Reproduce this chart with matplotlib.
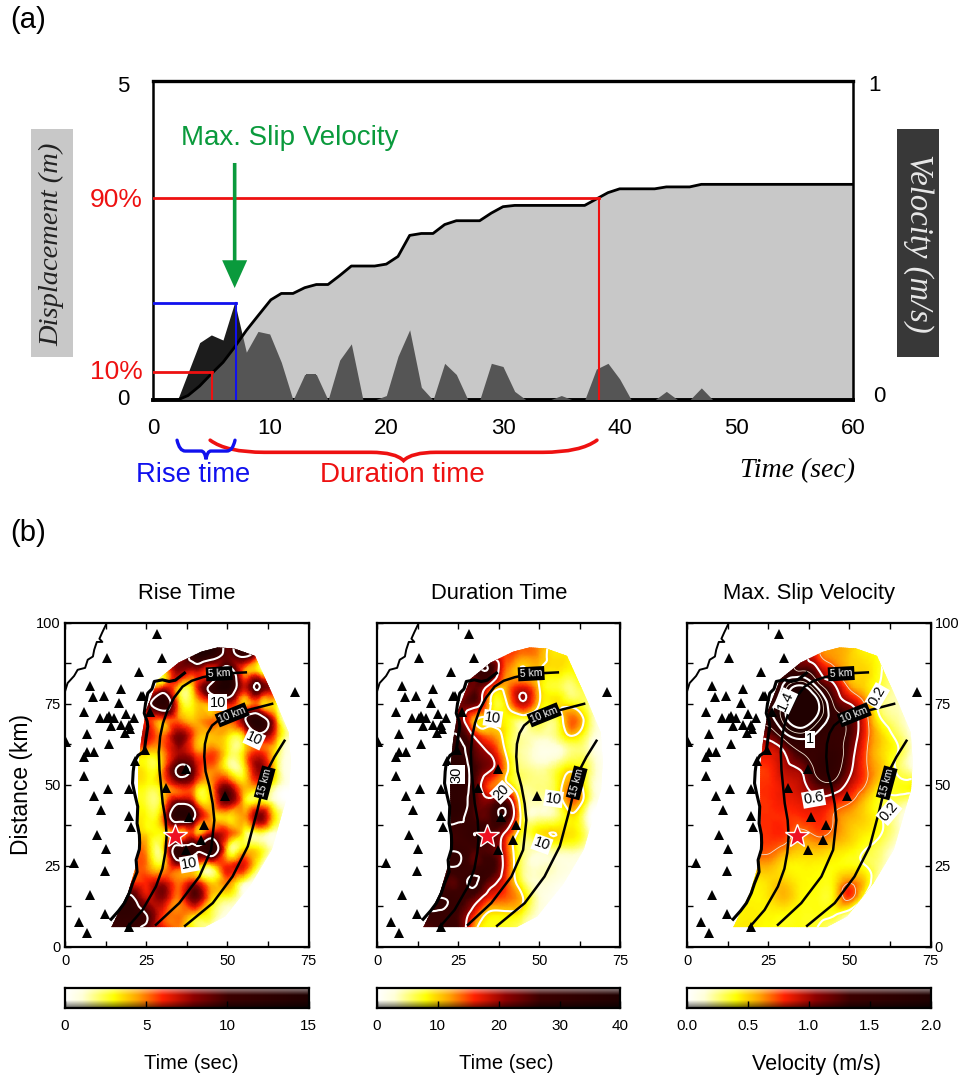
import numpy as np
import matplotlib
matplotlib.use('Agg')
import matplotlib.pyplot as plt
from matplotlib.colors import LinearSegmentedColormap, Normalize
from matplotlib.patches import Polygon, PathPatch, Rectangle
from matplotlib.path import Path
from matplotlib.tri import Triangulation, UniformTriRefiner
from matplotlib.transforms import ScaledTranslation

plt.rcParams['font.family'] = ['Liberation Sans', 'DejaVu Sans']

# ---------- panel (a) data ----------
time_disp = [0, 2.1, 3, 4, 5, 6, 7, 8, 9, 10.1, 11, 12, 13, 14, 15, 16, 17, 19, 20, 21, 22, 23, 24, 25, 26, 28, 29, 30, 31, 37, 38, 39, 40, 43, 44, 46, 47, 60]
displacement = [0, 0, .07, .22, .41, .59, .83, 1.09, 1.32, 1.57, 1.67, 1.67, 1.76, 1.81, 1.81, 1.95, 2.10, 2.10, 2.13, 2.25, 2.58, 2.61, 2.61, 2.75, 2.81, 2.81, 2.93, 3.03, 3.05, 3.05, 3.15, 3.25, 3.31, 3.31, 3.34, 3.34, 3.38, 3.38]
time_vel = [0, 2.1, 4, 5, 6, 7, 8, 9, 10, 11, 12, 13, 14, 15, 16, 17, 18, 19, 20, 21, 22, 23, 24, 25, 26, 27, 28, 29, 30, 31, 32, 34, 35, 36, 37, 38, 39, 40, 41, 43, 44, 45, 46, 47, 48, 60]
velocity = [0, 0, .18, .204, .188, .306, .15, .215, .207, .118, 0, .08, .08, 0, .125, .176, 0, 0, .014, .137, .22, .04, 0, .115, .08, 0, 0, .115, .105, .027, 0, 0, .014, 0, 0, .097, .115, .066, 0, 0, .027, 0, 0, .038, 0, 0]
pct90_time, pct90_disp = 38.2, 3.16
pct10_time, pct10_disp = 5.05, .434
peak_time, peak_disp = 7.1, 1.517
arrow_time, arrow_tip, arrow_tail = 7.0, 1.755, 3.715

# ---------- panel (b) data ----------
grid_x = [10, 15, 20, 25, 30, 35, 40, 45, 50, 55, 60, 65, 70]
grid_y = [95, 90, 85, 80, 75, 70, 65, 60, 55, 50, 45, 40, 35, 30, 25, 20, 15, 10, 5]
rise_time = [
 [0,0,0,0,0,8,13,13,10,11,6,0,0],
 [0,0,0,0,3,7,13,13,9,11,5,0,0],
 [3,3,3,3,3,8,7,6,12,5,3,2,0],
 [3,3,3,3,6,4,5,11,15,7,10,6,0],
 [8,8,8,8,13,4.5,3.5,5,7,4,4.5,3,0],
 [6,6,6,6,5,5,4,5,5,9,13,5,1],
 [7,7,7,7,5,8.5,5,4,3.5,4,8.5,5,1],
 [4,4,4,4,4.5,7.5,5.5,5.5,3,3.5,6,3,.5],
 [3,3,3,3,4.5,10.5,8,5,2.8,3,8,3,.5],
 [3,3,3,3,4,7,5.5,4.5,7.5,4,5,2,.3],
 [2.5,2.5,2.5,2.5,3.5,8,5.5,4,9,4,3,1,0],
 [3,3,3,3,5,13,10,4.5,3.5,4.5,8.5,3,0],
 [3.5,3.5,3.5,3.5,3,4.5,5,7,6,3,2.5,1,0],
 [4.5,4.5,4.5,4.5,3,12,11,13,3.5,3.5,3,.8,0],
 [5,5,5,5,3.5,7,5,3.5,6,6.5,2,0,0],
 [6,6,6,6,7,5,6.5,3.5,5,2,.5,0,0],
 [11,11,11,7,8,5,9,4,2.5,.7,0,0,0],
 [12,12,12,10,6,5,4,2.5,.8,0,0,0,0],
 [10,10,11,9,7,5,3,1,0,0,0,0,0]]
duration_time = [
 [0,0,0,0,0,22,15,13,12,9,8,0,0],
 [0,0,0,0,20,20,15,13,12,9,8,0,0],
 [26,26,26,26,26,28,13,10,10,9,8,7,0],
 [20,20,20,20,24,16,12,17,10,7,5,7,0],
 [22,22,22,22,24,10,10,19,10,9,8,5,0],
 [24,24,24,24,11,9,8,6,7,6,14,7,1],
 [30,30,30,30,19,13,8,4,4,5,10,5,1],
 [33,33,33,33,25,19,9,4,2,2,5,4,.5],
 [35,35,35,35,27,21,11,5,4,6,9,6,1],
 [34,34,34,34,26,14,11,5,5,7,13,6,1],
 [33,33,33,33,26,22,24,6,4,6,14,6,.5],
 [32,32,32,32,26,26,28,7,4,5,9,2,0],
 [27,27,27,27,30,26,18,7,9,10,9,4,0],
 [29,29,29,29,26,25,15,5,4,5,5,2,0],
 [30,30,30,30,26,28,16,5,3,3,2,.5,0],
 [26,26,26,26,31,23,15,6,3,2,1,0,0],
 [30,30,30,28,24,16,14,10,3,1,0,0,0],
 [29,29,29,26,16,9,9,7,2.5,.5,0,0,0],
 [24,24,28,27,11,8,7,4,.5,0,0,0,0]]
slip_velocity = [
 [0,0,0,0,0,.6,.45,.35,.3,.25,.2,0,0],
 [0,0,0,0,.7,.7,.45,.35,.3,.25,.2,.1,0],
 [.8,.8,.8,.8,.8,.8,.65,.45,.3,.28,.2,.12,0],
 [.8,.8,.8,.8,1.1,1.5,1.0,.65,.38,.28,.18,.1,0],
 [.9,.9,.9,.9,1.3,1.9,1.5,.8,.6,.38,.15,.1,.02],
 [.9,.9,.9,.9,1.3,1.7,1.3,.9,.75,.45,.2,.12,.03],
 [.65,.65,.65,.65,.9,1.1,.95,.85,.75,.45,.28,.17,.05],
 [.5,.5,.5,.5,.6,.8,.85,.9,.7,.42,.28,.2,.05],
 [.45,.45,.45,.45,.55,.62,.85,.9,.65,.42,.3,.18,.05],
 [.45,.45,.45,.45,.5,.55,.72,.75,.55,.4,.25,.22,.25],
 [.45,.45,.45,.45,.48,.5,.55,.5,.42,.3,.2,.17,.1],
 [.45,.45,.45,.45,.45,.45,.47,.4,.33,.28,.2,.1,0],
 [.45,.45,.45,.45,.45,.38,.42,.38,.3,.25,.2,.1,0],
 [.42,.42,.42,.42,.36,.3,.31,.28,.25,.2,.15,.05,0],
 [.33,.33,.33,.33,.26,.24,.24,.23,.23,.2,.12,0,0],
 [.25,.25,.25,.27,.29,.24,.23,.24,.38,.28,.06,0,0],
 [.24,.24,.24,.26,.31,.24,.22,.24,.43,.15,0,0,0],
 [.24,.24,.25,.24,.23,.22,.22,.21,.12,0,0,0,0],
 [.26,.26,.25,.23,.23,.23,.2,.12,.03,0,0,0,0]]

fault_x = [14.3, 19.4, 22.5, 22.7, 22.5, 22.6, 23.5, 25, 28.7, 35, 42, 47, 52, 58.5, 64.7, 68.9, 69.5, 69, 63.7, 57.5, 49.3, 43, 14.3]
fault_y = [6, 16.5, 27, 40, 50, 55.7, 64, 73, 82.5, 87.6, 91, 92.3, 92, 89.7, 76, 66, 57, 48.5, 30, 19.6, 9.3, 6, 6]

station_x = [28.3,29.8,12.8,22.7,7.8,17.2,8.6,11.9,16.5,23.9,23.4,5.7,26.3,10.9,12.8,13.4,15.2,18.8,21.1,14.3,17.2,19.8,18.4,20,6.9,13.4,6.8,9,5.7,24.6,21.5,.2,37.3,5.7,31.1,13.3,19.8,8.9,11.2,49.3,19.8,38.3,42.8,20.2,9.8,41.9,12.7,37.3,2.9,12.4,7.8,12.4,4.2,19.8,6.9,70.7]
station_y = [96.4,88.9,88.9,84.8,80.5,79.4,77,77.4,75.3,77.4,77.4,72.5,72.5,70.5,70.5,71,70.5,71.8,70.5,68.1,68.4,68.4,66,67.1,65.5,62.6,60,60,58.4,60.7,57.3,63,54.8,52.5,49,48.6,48.6,46.3,42,46.5,40.4,40.1,37.4,37,34.5,32.9,30,29.8,25.9,23.4,15.9,10,7.5,6,4.1,78.5]

coast_thin_x = [12.6, 11.5, 10.6, 11.5, 9.8, 9, 8.6, 7, 6.2, 3.9, 2.8, .8, 0]
coast_thin_y = [99.3, 97, 95, 94, 94, 91.6, 89.5, 88.5, 86, 85.4, 83.5, 81.3, 78.7]
coast_x = [36.8, 34, 32.1, 30, 27.5, 26.8, 25.5, 24.8, 24.4, 25.3, 25.5, 24.9, 24.4, 22.5, 21.4, 21, 20.8, 21.5, 22.4, 22.2, 22.9, 23, 22.9, 21.9, 22.2, 20.8, 19.8, 18.3, 16.5, 14.2]
coast_y = [84.4, 82.2, 81.8, 82.3, 81.8, 79.5, 78.2, 75, 72, 69.5, 67.9, 64, 60.2, 59, 57.1, 54, 50.4, 47, 43.2, 38, 34.5, 32, 30, 26.7, 23, 19.5, 16.5, 13.4, 11, 8.4]

depth5_x = [19.3, 23.9, 28, 30, 30.9, 31.3, 31, 30.1, 29.1, 28.9, 29.3, 30.2, 31.6, 33.6, 36.2, 39, 42.4, 47.6, 55.7]
depth5_y = [6, 11.3, 18.5, 24, 29, 34, 39, 44.2, 54.5, 60, 64.8, 69, 73, 76.8, 80.2, 82, 83.1, 84.2, 84.6]
depth10_x = [28, 35.2, 41.4, 45, 46, 45.5, 44.5, 43.3, 42.9, 43.1, 43.9, 45.3, 47.5, 51, 55.7, 63.8]
depth10_y = [6.7, 13.4, 21.6, 29.8, 39, 44, 49.4, 54, 58.6, 62.5, 65.8, 68.2, 70, 71.5, 72.8, 74.9]
depth15_x = [37, 45.5, 51.6, 56.3, 59.3, 61.9, 64.5, 67.6]
depth15_y = [6.4, 13.4, 21.6, 30.9, 42.2, 53.5, 58.5, 63.5]
star_x, star_y = 34, 34

panel_titles = ['Rise Time', 'Duration Time', 'Max. Slip Velocity']
bar_titles = ['Time (sec)', 'Time (sec)', 'Velocity (m/s)']
bar_ticks = [[0, 5, 10, 15], [0, 10, 20, 30, 40], [0, .5, 1, 1.5, 2]]
bar_labels = [['0', '5', '10', '15'], ['0', '10', '20', '30', '40'], ['0.0', '0.5', '1.0', '1.5', '2.0']]
map_vmax = [15, 40, 1.15]
thick_levels = [[10], [10, 20, 30], [.2, .6, 1.0, 1.4]]
thin_levels = [[], [], [.4, .8, 1.2]]
contour_labels = [
 [('10', 47, 75.3, 0), ('10', 58.3, 64, -25), ('10', 38.3, 25.5, 10)],
 [('10', 35.7, 70.4, -8), ('10', 54.4, 45.6, -8), ('10', 50.8, 31.6, -20), ('20', 38.3, 47.6, 45), ('30', 24.6, 53, 90)],
 [('1.4', 30.5, 75.8, 65), ('1', 37.9, 63.9, 0), ('0.6', 39, 45.6, 10), ('0.2', 58.6, 77.3, 60), ('0.2', 62.2, 41.5, 50)]]
depth_labels = [('5 km', 47.5, 84.2, 3), ('10 km', 51.5, 71.5, 22), ('15 km', 61.5, 50.5, 75)]

cmap_hot = LinearSegmentedColormap.from_list('hot_r2', [
    (0, '#ffffff'), (.07, '#ffffd8'), (.2, '#ffff00'), (.3, '#ffa000'), (.4, '#ff2000'),
    (.53, '#8c0000'), (.67, '#3c0000'), (1, '#200000')])

W, H = 964, 1076
fig = plt.figure(figsize=(W / 100, H / 100), dpi=100)

def axes_px(l, t, r, b):
    return fig.add_axes([l / W, 1 - b / H, (r - l) / W, (b - t) / H])

def ftext(x, y, s, **kw):
    kw.setdefault('ha', 'center')
    kw.setdefault('va', 'center')
    return fig.text(x / W, 1 - y / H, s, **kw)

def nudge(label, dx_px, dy_px):
    label.set_transform(label.get_transform() + ScaledTranslation(dx_px / 100, -dy_px / 100, fig.dpi_scale_trans))

# ---------- panel (a) ----------
ax = axes_px(153, 81, 853, 400)
ax.set_xlim(0, 60)
ax.set_ylim(0, 5)
vel_m = np.array(velocity) * 5
ax.fill_between(time_vel, 0, vel_m, color='#1c1c1c', lw=0, zorder=1)
ax.fill_between(time_disp, 0, displacement, color='#c8c8c8', lw=0, zorder=2)
clip_poly = Polygon(np.column_stack([time_disp + [60, 0], displacement + [0, 0]]), transform=ax.transData)
dark = ax.fill_between(time_vel, 0, vel_m, color='#555555', lw=0, zorder=3)
dark.set_clip_path(clip_poly)
ax.plot(time_disp, displacement, color='k', lw=2, zorder=4)
ax.plot([0, pct90_time], [pct90_disp, pct90_disp], color='#ee1111', lw=2, zorder=5)
ax.plot([pct90_time, pct90_time], [pct90_disp, 0], color='#ee1111', lw=1.5, zorder=5)
ax.plot([0, pct10_time], [pct10_disp, pct10_disp], color='#ee1111', lw=2, zorder=5)
ax.plot([pct10_time, pct10_time], [pct10_disp, 0], color='#ee1111', lw=1.5, zorder=5)
ax.plot([0, peak_time], [peak_disp, peak_disp], color='#1111ee', lw=2, zorder=5)
ax.plot([peak_time, peak_time], [peak_disp, 0], color='#1111ee', lw=1.5, zorder=5)
ax.annotate('', xy=(arrow_time, arrow_tip), xytext=(arrow_time, arrow_tail),
            arrowprops=dict(facecolor='#0a9a3c', edgecolor='#0a9a3c', width=2.6, headwidth=18, headlength=20, shrink=0, lw=0), zorder=6)
ax.set_xticks(range(0, 61, 10))
ax.tick_params(axis='x', length=0, pad=13, labelsize=16)
ax.set_yticks([0, pct10_disp, pct90_disp, 5])
ax.set_yticklabels(['0', '10%', '90%', '5'])
ax.tick_params(axis='y', length=0, pad=14)
for lab, c, fs, off in zip(ax.get_yticklabels(), ['k', '#ee1111', '#ee1111', 'k'], [16, 19, 19, 16],
                           [(-4, -3), (9, -3), (9, -1), (-4, 3)]):
    lab.set_color(c)
    lab.set_fontsize(fs)
    nudge(lab, *off)
for side, lw in [('top', 2.4), ('bottom', 2.8), ('left', 1.8), ('right', 1.8)]:
    ax.spines[side].set_linewidth(lw)
axr = ax.twinx()
axr.set_ylim(0, 1)
axr.set_yticks([0, 1])
axr.tick_params(axis='y', length=0, pad=16, labelsize=16)
for lab, off in zip(axr.get_yticklabels(), [(-2, -6), (-7, 2)]):
    nudge(lab, *off)
for s in axr.spines.values():
    s.set_visible(False)

def brace(t0, t1, top, shoulder, tip, color, lw):
    mid = (t0 + t1) / 2
    d = (t1 - t0) * .14
    verts = [(t0, top), (t0 + d * .3, shoulder), (t0 + d, shoulder), (mid - d * .6, shoulder),
             (mid - d * .15, shoulder), (mid, tip), (mid + d * .15, shoulder), (mid + d * .6, shoulder),
             (t1 - d, shoulder), (t1 - d * .3, shoulder), (t1, top)]
    codes = [Path.MOVETO, Path.CURVE3, Path.CURVE3, Path.LINETO, Path.CURVE3, Path.CURVE3, Path.CURVE3, Path.CURVE3,
             Path.LINETO, Path.CURVE3, Path.CURVE3]
    ax.add_patch(PathPatch(Path(verts, codes), fc='none', ec=color, lw=lw, clip_on=False, capstyle='round'))

brace(4.9, 38.05, -.63, -.82, -.95, '#ee1111', 2.6)
brace(2.06, 7.03, -.63, -.80, -.93, '#1111ee', 2.4)

ftext(290, 138, 'Max. Slip Velocity', color='#0a9a3c', fontsize=20)
ftext(193, 475, 'Rise time', color='#1111ee', fontsize=19.7)
ftext(402, 475, 'Duration time', color='#ee1111', fontsize=20)
ftext(798, 471, 'Time (sec)', family=['Liberation Serif'], style='italic', fontsize=20)
ftext(28, 20, '(a)', fontsize=21)
ftext(28, 533, '(b)', fontsize=21)
fig.patches.append(Rectangle((31 / W, 1 - 357 / H), 42 / W, 228 / H, transform=fig.transFigure, fc='#c8c8c8', ec='none'))
fig.patches.append(Rectangle((897 / W, 1 - 357 / H), 42 / W, 228 / H, transform=fig.transFigure, fc='#383838', ec='none'))
ftext(52, 244, 'Displacement (m)', rotation=90, family=['Liberation Serif'], style='italic', fontsize=20.5, color='#222222')
ftext(918, 243, 'Velocity (m/s)', rotation=270, family=['Liberation Serif'], style='italic', fontsize=23.5, color='#e8e8e8')

# ---------- panel (b) ----------
XX, YY = np.meshgrid(grid_x, grid_y)
base_tri = Triangulation(XX.ravel().astype(float), YY.ravel().astype(float))
refiner = UniformTriRefiner(base_tri)
lefts = [65, 377, 687]
fields = [rise_time, duration_time, slip_velocity]
for i in range(3):
    l = lefts[i]
    m = axes_px(l, 622.5, l + 243.5, 946.5)
    m.set_xlim(0, 75)
    m.set_ylim(0, 100)
    z = np.array(fields[i], dtype=float).ravel()
    tri_fine, z_fine = refiner.refine_field(z, subdiv=3)
    outline = Polygon(np.column_stack([fault_x, fault_y]), transform=m.transData, fc='none', ec='none')
    m.add_patch(outline)
    tp = m.tripcolor(tri_fine, z_fine, shading='gouraud', cmap=cmap_hot, norm=Normalize(0, map_vmax[i]), zorder=1)
    tp.set_clip_path(outline)
    cs = m.tricontour(tri_fine, z_fine, levels=thick_levels[i], colors='white', linewidths=1.5, zorder=2)
    cs.set_clip_path(outline)
    if thin_levels[i]:
        cs2 = m.tricontour(tri_fine, z_fine, levels=thin_levels[i], colors='#f0e0d0', linewidths=.6, zorder=2)
        cs2.set_clip_path(outline)
    m.plot(coast_thin_x, coast_thin_y, color='k', lw=1.4, zorder=3)
    m.plot(coast_x, coast_y, color='k', lw=2.2, zorder=3)
    for dx, dy in [(depth5_x, depth5_y), (depth10_x, depth10_y), (depth15_x, depth15_y)]:
        m.plot(dx, dy, color='k', lw=1.8, zorder=4)
    m.plot(station_x, station_y, ls='none', marker='^', color='k', ms=7, mew=0, zorder=5, clip_on=True)
    m.plot(star_x, star_y, ls='none', marker='*', mfc='#ee1122', mec='white', mew=1, ms=18, zorder=6)
    for s, x, y, r in contour_labels[i]:
        m.text(x, y, s, rotation=r, ha='center', va='center', fontsize=10.5, zorder=7, rotation_mode='anchor',
               bbox=dict(fc='white', ec='none', pad=.8))
    for s, x, y, r in depth_labels:
        m.text(x, y, s, rotation=r, ha='center', va='center', fontsize=7.5, color='white', zorder=7,
               rotation_mode='anchor', bbox=dict(fc='k', ec='none', pad=1.4))
    m.set_xticks([0, 25, 50, 75])
    m.set_xticks([12.5, 37.5, 62.5], minor=True)
    m.set_yticks([0, 25, 50, 75, 100])
    m.set_yticks([12.5, 37.5, 62.5, 87.5], minor=True)
    m.tick_params(which='both', direction='in', length=4, width=1, top=True, right=True, labelsize=10.5, pad=3,
                  labelleft=(i == 0), labelright=(i == 2))
    m.tick_params(axis='x', pad=5.5)
    for s in m.spines.values():
        s.set_linewidth(1.6)
    m.set_title(panel_titles[i], fontsize=15.8, pad=17)
    if i == 0:
        m.set_ylabel('Distance (km)', fontsize=16.5, labelpad=2)

    # colour bar
    b = axes_px(l, 988, l + 243.5, 1008)
    vmax = bar_ticks[i][-1]
    b.imshow(np.linspace(0, 1, 256)[None, :], cmap=cmap_hot, aspect='auto', extent=[0, vmax, 0, 1], zorder=1)
    shade = np.zeros((64, 1, 4))
    ramp = np.linspace(0, 1, 64)          # 0 = top of bar
    shade[:, 0, :3] = np.where(ramp[:, None] < .5, 1.0, 0.0)
    shade[:, 0, 3] = np.where(ramp < .35, .55 * (1 - ramp / .35), np.where(ramp > .6, .6 * (ramp - .6) / .4, 0))
    b.imshow(shade, aspect='auto', extent=[0, vmax, 0, 1], zorder=2)
    b.set_xlim(0, vmax)
    b.set_ylim(0, 1)
    b.set_yticks([])
    b.set_xticks(bar_ticks[i])
    b.set_xticklabels(bar_labels[i])
    b.tick_params(axis='x', direction='in', length=5, width=1, labelsize=11, pad=8)
    b.set_xlabel(bar_titles[i], fontsize=15.5 if i == 2 else 14.5, labelpad=15, x=[.52, .53, .53][i])
    for s in b.spines.values():
        s.set_linewidth(1.6)

fig.savefig('out.png', dpi=100)
